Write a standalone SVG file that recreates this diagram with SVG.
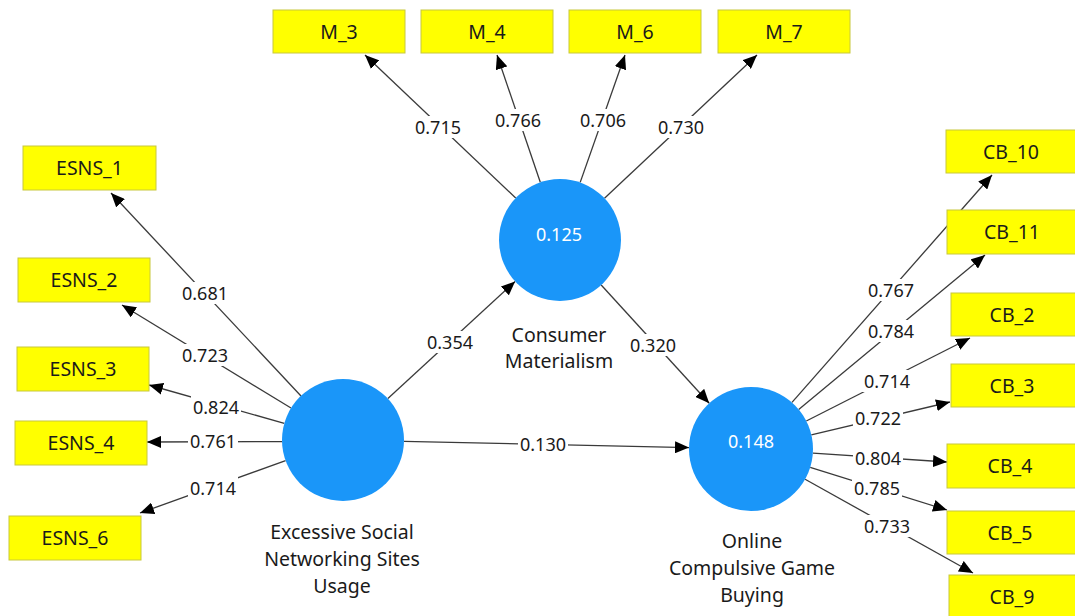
<svg xmlns="http://www.w3.org/2000/svg" width="1075" height="616" viewBox="0 0 1075 616">
<defs>
<marker id="arr" markerUnits="userSpaceOnUse" markerWidth="15" markerHeight="12" refX="14" refY="6" orient="auto">
<path d="M0,0 L14,6 L0,12 z" fill="#000"/>
</marker>
<style>
.c{stroke:#3a3a3a;stroke-width:1.3;fill:none;marker-end:url(#arr)}
.lb{fill:#fff}
.t{font-family:"Noto Sans","Open Sans","Liberation Sans",sans-serif;font-size:18px;fill:#1a1a1a;text-anchor:middle}
.n{font-family:"Noto Sans","Open Sans","Liberation Sans",sans-serif;font-size:19.5px;fill:#1a1a1a;text-anchor:middle}
.v{font-family:"Noto Sans","Open Sans","Liberation Sans",sans-serif;font-size:18px;fill:#fff;text-anchor:middle}
.box{fill:#ffff00;stroke:#c8c83c;stroke-width:1}
.lv{fill:#1a96f9}
</style>
</defs>
<rect width="1075" height="616" fill="#fff"/>
<g id="connectors">
<line class="c" x1="301" y1="396" x2="111" y2="193"/>
<line class="c" x1="291" y1="408" x2="122" y2="305"/>
<line class="c" x1="284.3" y1="423.4" x2="149" y2="385"/>
<line class="c" x1="282" y1="441.6" x2="147" y2="442"/>
<line class="c" x1="285.6" y1="460.6" x2="140" y2="513"/>
<line class="c" x1="515.7" y1="198" x2="365" y2="55"/>
<line class="c" x1="540.3" y1="182.2" x2="497" y2="55"/>
<line class="c" x1="580.2" y1="182.4" x2="625" y2="55"/>
<line class="c" x1="604.5" y1="198.2" x2="757" y2="55"/>
<line class="c" x1="792" y1="402.4" x2="992" y2="175"/>
<line class="c" x1="798.7" y1="409.4" x2="985" y2="255"/>
<line class="c" x1="806.3" y1="421" x2="970" y2="338"/>
<line class="c" x1="811.3" y1="434.8" x2="950" y2="402"/>
<line class="c" x1="812.9" y1="453.1" x2="947" y2="462"/>
<line class="c" x1="810.2" y1="467.4" x2="947" y2="510"/>
<line class="c" x1="805.1" y1="479.2" x2="973" y2="573"/>
<line class="c" x1="387.9" y1="398.6" x2="515.1" y2="281.4"/>
<line class="c" x1="601.2" y1="285" x2="709.2" y2="403.2"/>
<line class="c" x1="404" y1="441.3" x2="689" y2="447.6"/>
<g id="labels">
<rect class="lb" x="180" y="282" width="50" height="22"/><text class="t" x="205" y="299.5">0.681</text>
<rect class="lb" x="180" y="344" width="50" height="22"/><text class="t" x="205" y="361.5">0.723</text>
<rect class="lb" x="191" y="396" width="50" height="22"/><text class="t" x="216" y="413.5">0.824</text>
<rect class="lb" x="188" y="430" width="50" height="22"/><text class="t" x="213" y="447.5">0.761</text>
<rect class="lb" x="188" y="477" width="50" height="22"/><text class="t" x="213" y="494.5">0.714</text>
<rect class="lb" x="413" y="116" width="50" height="22"/><text class="t" x="438" y="133.5">0.715</text>
<rect class="lb" x="493" y="109" width="50" height="22"/><text class="t" x="518" y="126.5">0.766</text>
<rect class="lb" x="578" y="109" width="50" height="22"/><text class="t" x="603" y="126.5">0.706</text>
<rect class="lb" x="656" y="116" width="50" height="22"/><text class="t" x="681" y="133.5">0.730</text>
<rect class="lb" x="866" y="279" width="50" height="22"/><text class="t" x="891" y="296.5">0.767</text>
<rect class="lb" x="866" y="320" width="50" height="22"/><text class="t" x="891" y="337.5">0.784</text>
<rect class="lb" x="862" y="370" width="50" height="22"/><text class="t" x="887" y="387.5">0.714</text>
<rect class="lb" x="853" y="407" width="50" height="22"/><text class="t" x="878" y="424.5">0.722</text>
<rect class="lb" x="853" y="447" width="50" height="22"/><text class="t" x="878" y="464.5">0.804</text>
<rect class="lb" x="852" y="477" width="50" height="22"/><text class="t" x="877" y="494.5">0.785</text>
<rect class="lb" x="862" y="515" width="50" height="22"/><text class="t" x="887" y="532.5">0.733</text>
<rect class="lb" x="425" y="331" width="50" height="22"/><text class="t" x="450" y="348.5">0.354</text>
<rect class="lb" x="628" y="334" width="50" height="22"/><text class="t" x="653" y="351.5">0.320</text>
<rect class="lb" x="518" y="433" width="50" height="22"/><text class="t" x="543" y="450.5">0.130</text>
</g>
</g>
<g id="CM"><circle class="lv" cx="560" cy="240" r="61"/><text class="v" x="559" y="240.5">0.125</text><text class="n" x="559" y="342">Consumer</text><text class="n" x="559" y="368">Materialism</text></g>
<g id="ESNS"><circle class="lv" cx="343" cy="440" r="61"/><text class="n" x="342" y="539">Excessive Social</text><text class="n" x="342" y="566">Networking Sites</text><text class="n" x="342" y="593">Usage</text></g>
<g id="OCGB"><circle class="lv" cx="751" cy="449" r="62"/><text class="v" x="751" y="447.5">0.148</text><text class="n" x="752" y="548">Online</text><text class="n" x="752" y="575">Compulsive Game</text><text class="n" x="752" y="602">Buying</text></g>
<g id="M_3"><rect class="box" x="273" y="10" width="132" height="43"/><text class="n" x="339" y="38.5">M_3</text></g>
<g id="M_4"><rect class="box" x="421" y="10" width="132" height="43"/><text class="n" x="487" y="38.5">M_4</text></g>
<g id="M_6"><rect class="box" x="569" y="10" width="132" height="43"/><text class="n" x="635" y="38.5">M_6</text></g>
<g id="M_7"><rect class="box" x="718" y="10" width="132" height="43"/><text class="n" x="784" y="38.5">M_7</text></g>
<g id="ESNS_1"><rect class="box" x="23" y="146" width="133" height="44"/><text class="n" x="89.5" y="175">ESNS_1</text></g>
<g id="ESNS_2"><rect class="box" x="18" y="258" width="132" height="44"/><text class="n" x="84" y="287">ESNS_2</text></g>
<g id="ESNS_3"><rect class="box" x="17" y="347" width="132" height="44"/><text class="n" x="83" y="376">ESNS_3</text></g>
<g id="ESNS_4"><rect class="box" x="15" y="421" width="132" height="44"/><text class="n" x="81" y="450">ESNS_4</text></g>
<g id="ESNS_6"><rect class="box" x="9" y="516" width="132" height="44"/><text class="n" x="75" y="545">ESNS_6</text></g>
<g id="CB_10"><rect class="box" x="946" y="130" width="132" height="43"/><text class="n" x="1011" y="158.5">CB_10</text></g>
<g id="CB_11"><rect class="box" x="947" y="210" width="132" height="44"/><text class="n" x="1012" y="239">CB_11</text></g>
<g id="CB_2"><rect class="box" x="951" y="293" width="132" height="43"/><text class="n" x="1012" y="321.5">CB_2</text></g>
<g id="CB_3"><rect class="box" x="951" y="364" width="132" height="43"/><text class="n" x="1012" y="392.5">CB_3</text></g>
<g id="CB_4"><rect class="box" x="947" y="444" width="132" height="44"/><text class="n" x="1010" y="473">CB_4</text></g>
<g id="CB_5"><rect class="box" x="947" y="511" width="132" height="43"/><text class="n" x="1010" y="539.5">CB_5</text></g>
<g id="CB_9"><rect class="box" x="949" y="575" width="132" height="44"/><text class="n" x="1012" y="603.5">CB_9</text></g>
</svg>
